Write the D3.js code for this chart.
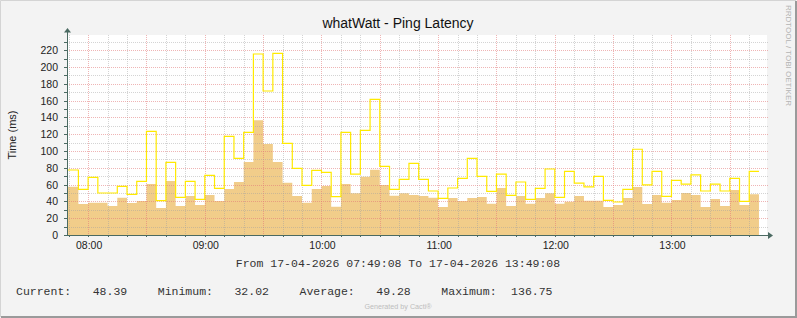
<!DOCTYPE html>
<html lang="en">
    <head>
        <meta charset="utf-8">
        <title>whatWatt - Ping Latency</title>
        <script type="text/javascript" src="https://d3js.org/d3.v7.min.js"></script>
        <style type="text/css">
            body { margin: 0; background: #f3f3f3; }
            svg { display: block; }
            .tick-label { font-family: "Liberation Sans", Arial, sans-serif; font-size: 10.5px; fill: #222; }
            .mono { font-family: "Liberation Mono", "Courier New", monospace; font-size: 11.5px; fill: #333; white-space: pre; }
        </style>
    </head>
    <body>
        <script type="text/javascript">

            // 5 minute averages (area) and maxima (line), first bin starts 07:50
            var avgValues = [57.5, 36.9, 38.5, 38.5, 34.5, 44.5, 38.0, 40.5, 60.7, 32.2,
                64.3, 34.5, 46.4, 35.7, 47.6, 40.5, 54.8, 63.1, 86.9, 136.75,
                108.4, 86.9, 62.3, 46.4, 38.5, 54.8, 58.4, 33.7, 60.7, 49.6,
                69.5, 77.8, 59.6, 46.8, 49.6, 47.6, 46.4, 44.5, 33.3, 44.1,
                40.5, 44.1, 45.3, 37.3, 56.0, 34.5, 46.4, 37.3, 44.1, 49.6,
                37.3, 39.7, 46.4, 40.9, 40.9, 33.3, 35.7, 44.1, 57.2, 36.9,
                47.6, 38.5, 41.7, 50.0, 47.6, 33.3, 42.9, 34.5, 53.6, 35.7,
                48.39];

            var maxValues = [77.4, 54.4, 68.7, 50.0, 50.0, 58.0, 48.4, 63.9, 123.5, 40.9,
                86.6, 44.9, 63.9, 42.5, 71.1, 55.6, 117.5, 91.3, 122.3, 215.6,
                171.5, 216.4, 109.2, 79.4, 59.2, 77.0, 74.7, 45.6, 122.3, 72.6,
                124.7, 161.6, 81.8, 54.4, 66.3, 85.4, 66.3, 52.4, 43.7, 56.0,
                67.5, 91.3, 69.9, 52.0, 72.6, 47.2, 63.1, 42.5, 55.6, 78.6,
                44.9, 75.8, 61.9, 57.2, 69.9, 41.3, 39.3, 54.4, 102.1, 59.6,
                75.8, 46.1, 65.1, 60.7, 71.5, 52.4, 60.7, 52.4, 67.5, 40.1,
                75.8];

            var yLabels = [0, 20, 40, 60, 80, 100, 120, 140, 160, 180, 200, 220];
            var legendNames = ["Current:", "Minimum:", "Average:", "Maximum:"];
            var legendValues = ["48.39", "32.02", "49.28", "136.75"];

            var w = 797, h = 318;
            var margin = {top: 35, right: 30, bottom: 83, left: 67};
            var pw = w - margin.left - margin.right,
                ph = h - margin.top - margin.bottom;

            var tStart = new Date(2026, 3, 17, 7, 49, 8),
                tEnd = new Date(2026, 3, 17, 13, 49, 8),
                tFirst = new Date(2026, 3, 17, 7, 50, 0),
                stepMin = 5;

            var svg = d3.select("body").append("svg")
                .attr("width", w)
                .attr("height", h);

            // frame
            svg.append("rect").attr("x", 0).attr("y", 0).attr("width", w).attr("height", h)
                .attr("fill", "#f3f3f3");
            svg.append("path").attr("d", "M0.5," + (h - 1) + "V0.5H" + (w - 1))
                .attr("fill", "none").attr("stroke", "#d4d4d4");
            svg.append("path").attr("d", "M1," + (h - 1) + "H" + (w - 1) + "V1")
                .attr("fill", "none").attr("stroke", "#9a9a9a").attr("stroke-width", 2);

            var g = svg.append("g")
                .attr("transform", "translate(" + margin.left + "," + margin.top + ")");

            g.append("rect").attr("width", pw).attr("height", ph).attr("fill", "#fff");

            var x = d3.scaleTime().domain([tStart, tEnd]).range([0, pw]);
            var y = d3.scaleLinear().domain([0, 238.2]).range([ph, 0]);

            function binTime(i) {
                return i === 0 ? tStart : d3.timeMinute.offset(tFirst, i * stepMin);
            }
            var avgPts = avgValues.map(function(v, i) { return {t: binTime(i), v: v}; });
            avgPts.push({t: d3.timeMinute.offset(tFirst, avgValues.length * stepMin), v: avgValues[avgValues.length - 1]});
            var maxPts = maxValues.map(function(v, i) { return {t: binTime(i), v: v}; });
            maxPts.push({t: d3.timeMinute.offset(tFirst, maxValues.length * stepMin), v: maxValues[maxValues.length - 1]});

            var area = d3.area().curve(d3.curveStepAfter)
                .x(function(d) { return x(d.t); })
                .y0(y(0))
                .y1(function(d) { return y(d.v); });

            g.append("path").datum(avgPts)
                .attr("d", area)
                .attr("fill", "#f1cd8a");

            // grid on top of the area, like rrdtool
            var minorX = x.ticks(d3.timeMinute.every(10)),
                hours = x.ticks(d3.timeHour.every(1));
            var minorY = d3.range(10, 231, 10);
            var majorCol = "rgba(225,120,120,0.55)", minorCol = "rgba(160,160,160,0.45)";

            g.selectAll(".gx").data(minorX).enter().append("line")
                .attr("x1", function(d) { return Math.round(x(d)) + 0.5; })
                .attr("x2", function(d) { return Math.round(x(d)) + 0.5; })
                .attr("y1", 0).attr("y2", ph)
                .attr("stroke", function(d) { return d.getMinutes() % 30 === 0 ? majorCol : minorCol; })
                .attr("stroke-dasharray", "1,1");

            g.selectAll(".gy").data(minorY).enter().append("line")
                .attr("x1", 0).attr("x2", pw + 1)
                .attr("y1", function(d) { return Math.round(y(d)) + 0.5; })
                .attr("y2", function(d) { return Math.round(y(d)) + 0.5; })
                .attr("stroke", function(d) { return d % 20 === 0 ? majorCol : minorCol; })
                .attr("stroke-dasharray", "1,1");

            var line = d3.line().curve(d3.curveStepAfter)
                .x(function(d) { return x(d.t); })
                .y(function(d) { return y(d.v); });

            g.append("path").datum(maxPts)
                .attr("d", line)
                .attr("fill", "none")
                .attr("stroke", "#ffea00")
                .attr("stroke-width", 1.2);

            // axes
            var axisColor = "#4b6a62";
            g.selectAll(".ty").data(minorY.concat([0])).enter().append("line")
                .attr("x1", -3).attr("x2", 0)
                .attr("y1", function(d) { return Math.round(y(d)) + 0.5; })
                .attr("y2", function(d) { return Math.round(y(d)) + 0.5; })
                .attr("stroke", axisColor);
            g.selectAll(".tx").data(minorX).enter().append("line")
                .attr("x1", function(d) { return Math.round(x(d)) + 0.5; })
                .attr("x2", function(d) { return Math.round(x(d)) + 0.5; })
                .attr("y1", ph).attr("y2", ph + 2)
                .attr("stroke", axisColor);

            g.append("line").attr("x1", 0.5).attr("x2", 0.5).attr("y1", ph + 1).attr("y2", -4)
                .attr("stroke", axisColor);
            g.append("line").attr("x1", -3).attr("x2", pw + 4).attr("y1", ph + 0.5).attr("y2", ph + 0.5)
                .attr("stroke", axisColor);
            g.append("path").attr("d", "M0.5,-7L-3,-2.5H4Z").attr("fill", axisColor);
            g.append("path").attr("d", "M" + (pw + 6) + "," + (ph + 0.5) + "L" + (pw + 1) + "," + (ph - 3) + "V" + (ph + 4) + "Z")
                .attr("fill", axisColor);

            g.selectAll(".ly").data(yLabels).enter().append("text")
                .attr("class", "tick-label")
                .attr("x", -9)
                .attr("y", function(d) { return y(d) + 4; })
                .attr("text-anchor", "end")
                .text(function(d) { return d; });

            var fmt = d3.timeFormat("%H:%M");
            g.selectAll(".lx").data(hours).enter().append("text")
                .attr("class", "tick-label")
                .attr("x", function(d) { return x(d) + 1; })
                .attr("y", ph + 14)
                .attr("text-anchor", "middle")
                .text(function(d) { return fmt(d); });

            // texts
            svg.append("text")
                .attr("x", 398).attr("y", 28)
                .attr("text-anchor", "middle")
                .style("font-family", "Liberation Sans, Arial, sans-serif")
                .style("font-size", "14px")
                .style("fill", "#111")
                .text("whatWatt - Ping Latency");

            svg.append("text")
                .attr("transform", "translate(16,135)rotate(-90)")
                .attr("text-anchor", "middle")
                .style("font-family", "Liberation Sans, Arial, sans-serif")
                .style("font-size", "11px")
                .style("fill", "#222")
                .text("Time (ms)");

            svg.append("text")
                .attr("transform", "translate(785.5,5)rotate(90)")
                .style("font-family", "Liberation Sans, Arial, sans-serif")
                .style("font-size", "8px")
                .style("fill", "#b4b4b4")
                .text("RRDTOOL / TOBI OETIKER");

            var dfmt = d3.timeFormat("%d-%m-%Y %H:%M:%S");
            svg.append("text")
                .attr("class", "mono")
                .attr("x", 398).attr("y", 267)
                .attr("text-anchor", "middle")
                .text("From " + dfmt(tStart) + " To " + dfmt(tEnd));

            // legend: one item every ~20.4 monospace columns
            var charW = 6.95, itemCols = 20.4, valueEndCols = 16;
            var legend = svg.append("g").attr("transform", "translate(16,295)");
            legendNames.forEach(function(n, i) {
                var x0 = i * itemCols * charW;
                legend.append("text").attr("class", "mono").attr("x", x0).text(n);
                legend.append("text").attr("class", "mono")
                    .attr("x", x0 + valueEndCols * charW)
                    .attr("text-anchor", "end")
                    .text(legendValues[i]);
            });

            svg.append("text")
                .attr("x", 398).attr("y", 309)
                .attr("text-anchor", "middle")
                .style("font-family", "Liberation Sans, Arial, sans-serif")
                .style("font-size", "7.2px")
                .style("fill", "#bdbdbd")
                .text("Generated by Cacti®");

        </script>
    </body>
</html>
